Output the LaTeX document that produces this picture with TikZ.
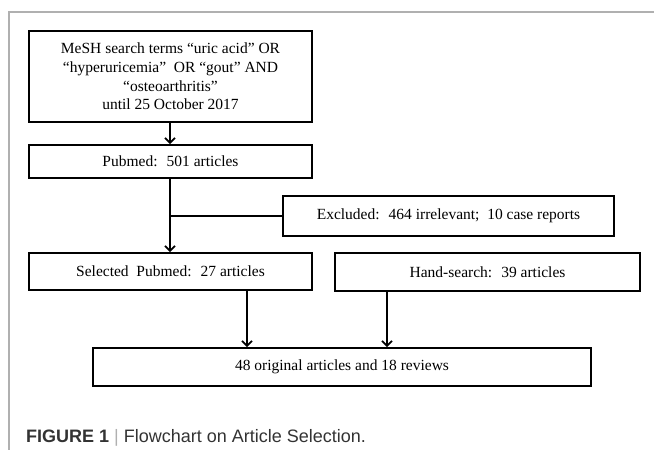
\documentclass[tikz,border=0pt]{standalone}
\usepackage{fontspec}
\setmainfont{Liberation Serif}
\newfontfamily\capfont{Liberation Sans}
\usetikzlibrary{arrows.meta}
\definecolor{captext}{HTML}{333333}
\definecolor{framegray}{HTML}{B0B0B0}
\begin{document}
\begin{tikzpicture}[x=1pt,y=-1pt,
  box/.style={draw, line width=2pt, inner sep=0pt, align=center,
    font=\fontsize{15.5}{18.7}\selectfont},
  conn/.style={line width=2pt},
  arr/.style={conn, -{Straight Barb[length=5pt,width=10pt,line width=1.6pt]}}]
\useasboundingbox (0,0) rectangle (654,450);
\coordinate (ftr) at (654,12);
\coordinate (ftl) at (9,12);
\coordinate (fbl) at (9,450);
\draw[framegray, line width=1.5pt] (ftr) -- (ftl) -- (fbl);

\node[box, minimum width=283, minimum height=91] (mesh) at (170.5,76.5)
  {MeSH search terms “uric acid” OR\\“hyperuricemia”~ OR “gout” AND\\“osteoarthritis”\\until 25 October 2017};
\node[box, minimum width=283, minimum height=33] (pub) at (170.5,161.5)
  {Pubmed:~ 501 articles};
\node[box, minimum width=331, minimum height=40] (excl) at (448.5,216)
  {Excluded:~ 464 irrelevant;~ 10 case reports};
\node[box, minimum width=283, minimum height=37] (sel) at (170.5,271.5)
  {Selected~ Pubmed:~ 27 articles};
\node[box, minimum width=305, minimum height=38] (hand) at (487.5,272)
  {Hand-search:~ 39 articles};
\node[box, minimum width=498, minimum height=38] (fin) at (342,367)
  {48 original articles and 18 reviews};

\draw[arr] ([xshift=-0.5pt]mesh.south) -- ([xshift=-0.5pt]pub.north);
\draw[arr] ([xshift=-0.5pt]pub.south) -- ([xshift=-0.5pt]sel.north);
\draw[conn] ([xshift=-1.5pt]pub.south |- excl.west) -- (excl.west);
\draw[arr] ([xshift=76.5pt]sel.south) -- ([xshift=76.5pt]sel.south |- fin.north);
\draw[arr] ([xshift=-100.5pt]hand.south) -- ([xshift=-100.5pt]hand.south |- fin.north);

\node[anchor=base west, inner sep=0pt, text=captext] (cap) at (26,442)
  {\capfont\fontsize{18}{21}\selectfont\textbf{FIGURE 1} {\color{framegray}|} Flowchart on Article Selection.};
\end{tikzpicture}
\end{document}
